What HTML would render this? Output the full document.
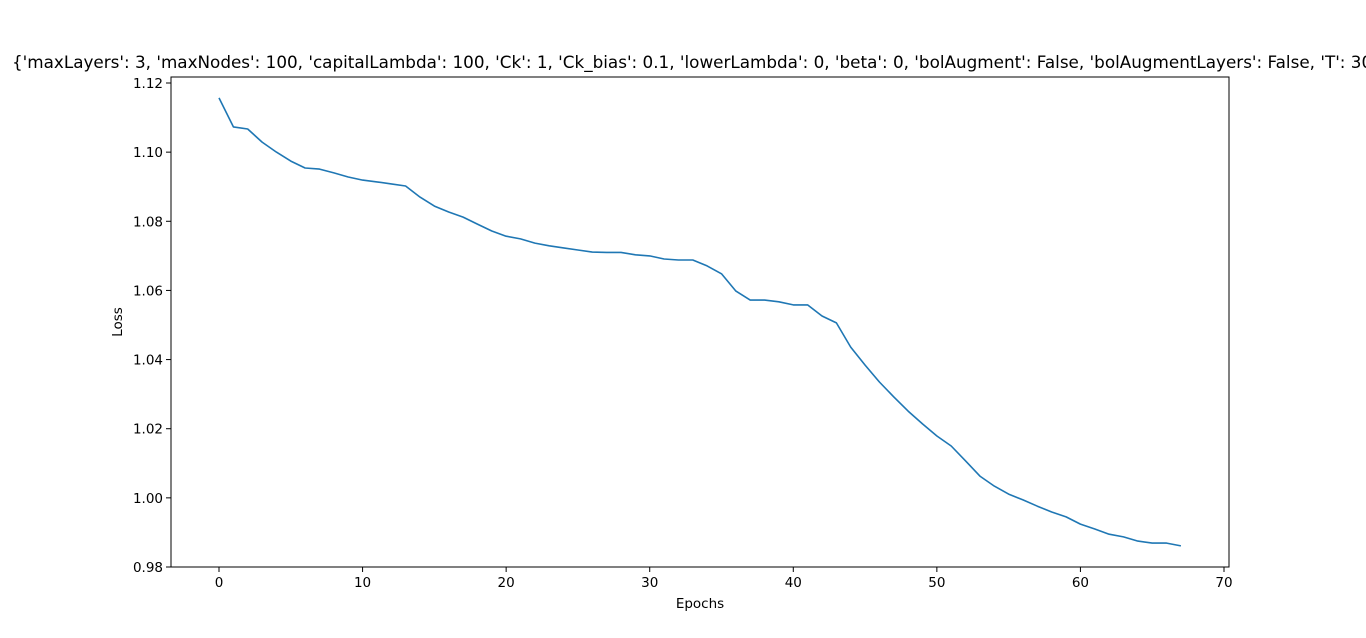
<!DOCTYPE html>
<html><head><meta charset="utf-8"><style>
body{margin:0;background:#fff;}
svg{display:block;font-family:"DejaVu Sans","Liberation Sans",sans-serif;}
</style></head><body>
<svg id="chart" width="1366" height="638">
<text x="12" y="68" font-size="16.8" fill="#000">{'maxLayers': 3, 'maxNodes': 100, 'capitalLambda': 100, 'Ck': 1, 'Ck_bias': 0.1, 'lowerLambda': 0, 'beta': 0, 'bolAugment': False, 'bolAugmentLayers': False, 'T': 30</text>
<g id="plot"></g>
<text x="700" y="608" font-size="13.5" text-anchor="middle">Epochs</text>
<text transform="translate(122,322) rotate(-90)" font-size="13.5" text-anchor="middle">Loss</text>
</svg>
<script>
const epochs = [];
for (let i = 0; i <= 67; i++) epochs.push(i);
const lossValues = [1.1157,1.1073,1.1067,1.1029,1.1000,1.0974,1.0954,1.0951,1.0940,1.0928,1.0919,1.0914,1.0908,1.0902,1.0870,1.0844,1.0827,1.0812,1.0792,1.0772,1.0757,1.0749,1.0737,1.0729,1.0723,1.0717,1.0711,1.0710,1.0710,1.0703,1.0700,1.0691,1.0688,1.0688,1.0671,1.0648,1.0598,1.0572,1.0572,1.0567,1.0558,1.0558,1.0526,1.0506,1.0436,1.0384,1.0335,1.0292,1.0251,1.0214,1.0179,1.0150,1.0107,1.0063,1.0034,1.0011,0.9994,0.9976,0.9959,0.9945,0.9924,0.9910,0.9895,0.9887,0.9875,0.9869,0.9869,0.9861];
const xTicks = [0,10,20,30,40,50,60,70];
const yTicks = [0.98,1.00,1.02,1.04,1.06,1.08,1.10,1.12];

const L=171,R=1229,T=77,B=567;
const xs = v => 219 + (v-0)*(1224-219)/70;
const ys = v => 567 - (v-0.98)*484/0.14;
const NS="http://www.w3.org/2000/svg";
const g=document.getElementById('plot');
function mk(tag,attrs){const e=document.createElementNS(NS,tag);for(const k in attrs)e.setAttribute(k,attrs[k]);g.appendChild(e);return e;}

const frame=mk('rect',{x:L,y:T,width:R-L,height:B-T,fill:'none',stroke:'#000','stroke-width':1});



xTicks.forEach(t=>{
  const x=xs(t);
  const tk=mk('line',{x1:x,x2:x,y1:B,y2:B+5,stroke:'#000'});
  
  
  const lb=mk('text',{x:x,y:B+20,'font-size':13.5,'text-anchor':'middle'});
  lb.textContent=t;
  
  
});
yTicks.forEach(t=>{
  const y=ys(t);
  const tk=mk('line',{x1:L-5,x2:L,y1:y,y2:y,stroke:'#000'});
  
  
  const lb=mk('text',{x:L-8,y:y+5,'font-size':13.5,'text-anchor':'end'});
  lb.textContent=t.toFixed(2);
  
  
});
const pts=epochs.map((e,i)=>xs(e).toFixed(1)+','+ys(lossValues[i]).toFixed(1)).join(' ');
const line=mk('polyline',{points:pts,fill:'none',stroke:'#1f77b4','stroke-width':1.6,'stroke-linejoin':'round'});


</script>
</body></html>
